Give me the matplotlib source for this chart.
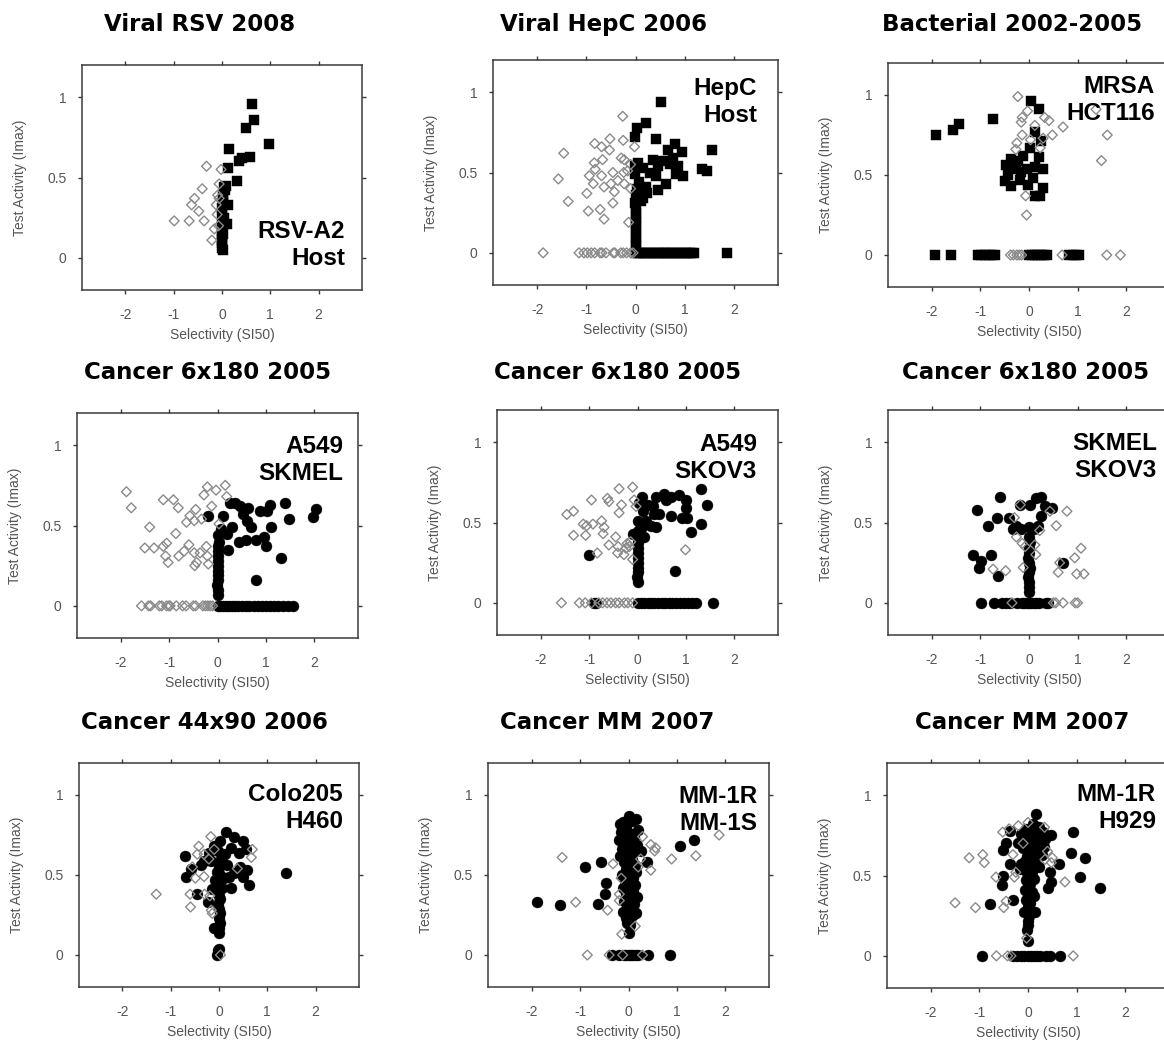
import matplotlib
matplotlib.use('Agg')
import matplotlib.pyplot as plt

# ---------------- data ----------------
titles = ["Viral RSV 2008", "Viral HepC 2006", "Bacterial 2002-2005",
          "Cancer 6x180 2005", "Cancer 6x180 2005", "Cancer 6x180 2005",
          "Cancer 44x90 2006", "Cancer MM 2007", "Cancer MM 2007"]
inner_labels = ["RSV-A2\nHost", "HepC\nHost", "MRSA\nHCT116",
                "A549\nSKMEL", "A549\nSKOV3", "SKMEL\nSKOV3",
                "Colo205\nH460", "MM-1R\nMM-1S", "MM-1R\nH929"]
x_ticks = [-2, -1, 0, 1, 2]
x_tick_labels = ["-2", "-1", "0", "1", "2"]
y_ticks = [0, 0.5, 1]
y_tick_labels = ["0", "0.5", "1"]
x_label = "Selectivity (SI50)"
y_label = "Test Activity (Imax)"

# Panel 1: RSV (filled squares / open diamonds)
rsv_filled = [(0.63,0.96),(0.67,0.86),(0.50,0.81),(0.98,0.71),(0.15,0.68),(0.57,0.63),(0.41,0.62),
              (0.36,0.60),(0.12,0.56),(0.32,0.48),(0.08,0.45),(0.06,0.42),(0.03,0.39),(0.12,0.33),
              (0.03,0.34),(0.01,0.28),(0.04,0.25),(0.01,0.22),(0.10,0.21),(0.0,0.17),(0.0,0.13),
              (0.0,0.09),(0.0,0.06),(0.01,0.31),(0.02,0.05),(0.0,0.11),(0.02,0.15),(0.0,0.19),
              (0.03,0.36),(0.05,0.44)]
rsv_open = [(-0.32,0.57),(-0.02,0.55),(-0.41,0.43),(-0.57,0.37),(-0.63,0.33),(-0.48,0.29),(-0.68,0.23),
            (-0.99,0.23),(-0.37,0.23),(-0.12,0.33),(-0.09,0.39),(-0.06,0.46),(-0.16,0.18),(-0.21,0.11),
            (-0.10,0.27),(-0.06,0.37),(-0.07,0.20)]

# Panel 2: HepC
hepc_filled = [(0.51,0.94),(0.22,0.81),(0.03,0.78),(-0.02,0.72),(0.42,0.71),(0.81,0.68),(1.55,0.64),
               (0.66,0.64),(0.94,0.63),(0.36,0.58),(0.05,0.56),(0.56,0.57),(0.77,0.59),(-0.02,0.54),
               (0.15,0.53),(0.46,0.54),(0.70,0.55),(0.87,0.54),(1.35,0.52),(1.45,0.51),(0.29,0.50),
               (-0.02,0.49),(0.97,0.48),(0.83,0.49),(0.41,0.48),(0.08,0.44),(0.63,0.43),(0.21,0.41),
               (0.03,0.40),(0.46,0.39),(0.24,0.37),(0.01,0.36),(0.15,0.34),(-0.02,0.31),(0.12,0.32),
               (0.0,0.28),(0.0,0.25),(0.0,0.22),(0.0,0.19),(0.0,0.16),(0.0,0.13),(0.0,0.10),(0.0,0.07),
               (0.0,0.04),
               (0.0,0.0),(0.05,0.0),(0.1,0.0),(0.15,0.0),(0.2,0.0),(0.25,0.0),(0.3,0.0),(0.35,0.0),
               (0.4,0.0),(0.45,0.0),(0.5,0.0),(0.55,0.0),(0.6,0.0),(0.65,0.0),(0.7,0.0),(0.75,0.0),
               (0.8,0.0),(0.85,0.0),(0.9,0.0),(0.95,0.0),(1.0,0.0),(1.05,0.0),(1.1,0.0),(1.15,0.0),
               (1.2,0.0),(1.86,0.0)]
hepc_open = [(-0.26,0.85),(-1.46,0.62),(-1.57,0.46),(-1.37,0.32),(-0.52,0.71),(-0.83,0.68),(-0.69,0.66),
             (-0.25,0.70),(-0.02,0.66),(-0.53,0.64),(-0.67,0.58),(-0.84,0.56),(-0.29,0.59),(-0.23,0.58),
             (-0.82,0.52),(-0.94,0.48),(-0.69,0.48),(-0.46,0.50),(-0.24,0.50),(-0.10,0.55),(-0.16,0.51),
             (-0.86,0.43),(-0.50,0.43),(-0.64,0.41),(-0.23,0.43),(-0.99,0.37),(-0.10,0.40),(-0.46,0.31),
             (-0.96,0.26),(-0.72,0.27),(-0.64,0.21),(-0.14,0.19),(-0.36,0.45),(-0.43,0.38),
             (-1.88,0.0),(-1.15,0.0),(-1.05,0.0),(-0.98,0.0),(-0.90,0.0),(-0.83,0.0),(-0.72,0.0),
             (-0.68,0.0),(-0.60,0.0),(-0.45,0.0),(-0.42,0.0),(-0.30,0.0),(-0.25,0.0),(-0.18,0.0),
             (-0.10,0.0),(-0.05,0.0)]

# Panel 3: MRSA
mrsa_filled = [(-1.91,0.75),(-1.56,0.78),(-1.43,0.82),(-0.74,0.85),(0.05,0.96),(0.20,0.91),(0.12,0.77),
               (0.25,0.71),(0.03,0.67),(-0.12,0.62),(0.21,0.61),(-0.36,0.60),(-0.23,0.59),(-0.47,0.56),
               (-0.26,0.54),(-0.05,0.54),(0.12,0.55),(0.29,0.54),(-0.16,0.52),(-0.43,0.50),(0.08,0.48),
               (-0.50,0.46),(-0.38,0.43),(-0.02,0.44),(0.29,0.42),(0.12,0.37),(0.22,0.37),(-0.19,0.47),
               (-1.93,0.0),(-1.60,0.0),(-1.05,0.0),(-0.98,0.0),(-0.90,0.0),(-0.83,0.0),(-0.76,0.0),
               (-0.70,0.0),(0.0,0.0),(0.06,0.0),(0.12,0.0),(0.18,0.0),(0.24,0.0),(0.30,0.0),(0.36,0.0),
               (0.83,0.0),(0.90,0.0),(0.97,0.0),(1.03,0.0)]
mrsa_open = [(-0.23,0.99),(-0.03,0.90),(-0.14,0.86),(-0.16,0.83),(0.32,0.86),(0.41,0.84),(0.12,0.81),
             (0.70,0.80),(1.38,0.91),(1.61,0.75),(0.48,0.75),(-0.14,0.75),(0.29,0.73),(-0.25,0.70),
             (0.03,0.72),(-0.27,0.66),(0.23,0.67),(1.49,0.59),(-0.07,0.37),(-0.05,0.25),
             (-0.38,0.0),(-0.32,0.0),(-0.25,0.0),(-0.20,0.0),(-0.15,0.0),(0.68,0.0),(1.60,0.0),(1.88,0.0)]

# Panel 4: A549 / SKMEL
a549_skmel_filled = [(-0.19,0.56),(0.12,0.56),(0.25,0.64),(0.36,0.64),(0.46,0.62),(0.63,0.61),(0.53,0.57),
                     (1.09,0.63),(1.39,0.64),(1.47,0.54),(1.97,0.55),(2.04,0.60),(1.03,0.59),(0.87,0.59),
                     (0.60,0.53),(0.70,0.49),(1.11,0.49),(0.30,0.49),(0.08,0.48),(0.19,0.45),(0.01,0.44),
                     (0.45,0.40),(0.58,0.41),(0.80,0.41),(0.97,0.43),(1.01,0.37),(0.22,0.35),(1.32,0.30),
                     (0.79,0.16),(0.0,0.07),(0.0,0.10),(-0.02,0.13),(0.0,0.16),(0.0,0.19),(0.0,0.22),
                     (0.0,0.25),(0.0,0.28),(0.0,0.31),(0.02,0.34),(0.0,0.37),(0.03,0.40),
                     (0.0,0.0),(0.06,0.0),(0.12,0.0),(0.18,0.0),(0.24,0.0),(0.30,0.0),(0.36,0.0),(0.42,0.0),
                     (0.50,0.0),(0.58,0.0),(0.66,0.0),(0.75,0.0),(0.83,0.0),(0.92,0.0),(1.00,0.0),(1.08,0.0),
                     (1.17,0.0),(1.25,0.0),(1.35,0.0),(1.45,0.0),(1.55,0.0)]
a549_skmel_open = [(-1.88,0.71),(-1.78,0.61),(-1.40,0.49),(-1.50,0.36),(-1.31,0.36),(-1.12,0.66),(-0.91,0.66),
                   (-0.81,0.61),(-1.12,0.37),(-1.05,0.39),(-1.07,0.31),(-1.02,0.27),(-0.86,0.45),(-0.80,0.31),
                   (-0.69,0.34),(-0.64,0.52),(-0.57,0.56),(-0.59,0.38),(-0.48,0.53),(-0.45,0.60),(-0.48,0.33),
                   (-0.47,0.25),(-0.43,0.27),(-0.33,0.54),(-0.28,0.69),(-0.21,0.74),(-0.12,0.62),(-0.23,0.37),
                   (-0.21,0.31),(-0.19,0.26),(-0.03,0.72),(0.16,0.75),(0.19,0.68),(0.03,0.51),(-0.36,0.33),
                   (-1.57,0.0),(-1.42,0.0),(-1.38,0.0),(-1.20,0.0),(-1.15,0.0),(-1.05,0.0),(-1.00,0.0),
                   (-0.98,0.0),(-0.85,0.0),(-0.72,0.0),(-0.65,0.0),(-0.50,0.0),(-0.45,0.0),(-0.30,0.0),
                   (-0.25,0.0),(-0.20,0.0),(-0.15,0.0),(-0.10,0.0)]

# Panel 5: A549 / SKOV3
a549_skov3_filled = [(1.31,0.71),(1.43,0.61),(1.31,0.49),(1.10,0.44),(1.00,0.64),(1.00,0.59),(0.86,0.67),
                     (1.03,0.53),(0.92,0.53),(0.55,0.68),(0.69,0.66),(0.59,0.64),(0.38,0.66),(0.10,0.66),
                     (0.69,0.54),(0.45,0.55),(0.31,0.60),(0.21,0.61),(0.12,0.57),(0.03,0.62),(0.34,0.55),
                     (0.17,0.51),(0.0,0.51),(0.28,0.48),(0.10,0.47),(0.38,0.47),(-0.10,0.43),(0.14,0.41),
                     (0.01,0.45),(-1.01,0.30),(0.78,0.20),
                     (0.0,0.13),(-0.02,0.16),(0.0,0.19),(0.0,0.22),(0.0,0.25),(0.0,0.28),(0.0,0.31),
                     (0.02,0.34),(0.0,0.37),(0.0,0.40),
                     (-0.90,0.0),(-0.85,0.0),(0.0,0.0),(0.07,0.0),(0.14,0.0),(0.21,0.0),(0.28,0.0),
                     (0.35,0.0),(0.42,0.0),(0.50,0.0),(0.57,0.0),(0.64,0.0),(0.72,0.0),(0.80,0.0),
                     (0.88,0.0),(0.96,0.0),(1.05,0.0),(1.13,0.0),(1.20,0.0),(1.55,0.0)]
a549_skov3_open = [(-1.46,0.55),(-1.32,0.57),(-1.32,0.42),(-1.07,0.42),(-1.12,0.49),(-1.05,0.48),(-0.92,0.49),
                   (-0.95,0.64),(-0.74,0.51),(-0.69,0.47),(-0.71,0.43),(-0.62,0.65),(-0.59,0.63),(-0.38,0.71),
                   (-0.10,0.72),(-0.33,0.61),(-0.38,0.56),(-0.59,0.36),(-0.45,0.41),(-0.40,0.35),(-0.83,0.31),
                   (-0.41,0.31),(-0.28,0.30),(-0.21,0.37),(-0.24,0.34),(-0.17,0.35),(-0.14,0.38),(-0.07,0.64),
                   (-0.03,0.60),(0.99,0.33),(-0.10,0.27),
                   (-1.57,0.0),(-1.20,0.0),(-1.08,0.0),(-0.95,0.0),(-0.80,0.0),(-0.72,0.0),(-0.63,0.0),
                   (-0.55,0.0),(-0.45,0.0),(-0.38,0.0),(-0.27,0.0),(-0.20,0.0),(-0.10,0.0)]

# Panel 6: SKMEL / SKOV3
skmel_skov3_filled = [(-0.60,0.66),(-1.07,0.58),(-0.66,0.53),(-0.85,0.48),(-0.41,0.53),(-1.15,0.30),(-0.79,0.30),
                      (-0.98,0.26),(-1.02,0.22),(-0.64,0.17),(-0.19,0.61),(0.03,0.61),(0.14,0.65),(0.25,0.66),
                      (0.32,0.60),(0.48,0.59),(0.25,0.54),(0.19,0.48),(-0.26,0.48),(-0.33,0.46),(-0.16,0.46),
                      (0.01,0.47),(0.10,0.46),(-0.01,0.41),(0.03,0.38),(0.70,0.25),
                      (0.0,0.07),(0.0,0.10),(0.0,0.13),(-0.02,0.16),(0.0,0.19),(0.02,0.22),(0.0,0.25),
                      (-0.02,0.28),(0.0,0.31),(0.0,0.34),
                      (-0.98,0.0),(-0.72,0.0),(-0.55,0.0),(-0.48,0.0),(-0.40,0.0),(-0.25,0.0),(-0.15,0.0),
                      (-0.10,0.0),(-0.05,0.0),(0.0,0.0),(0.05,0.0),(0.10,0.0),(0.15,0.0),(0.20,0.0),
                      (0.35,0.0),(0.40,0.0)]
skmel_skov3_open = [(-0.18,0.61),(-0.30,0.53),(-0.26,0.41),(-0.14,0.37),(-0.08,0.35),(0.12,0.36),(0.14,0.30),
                    (-0.12,0.22),(-0.74,0.21),(-0.48,0.20),(0.22,0.45),(0.78,0.57),(0.56,0.48),(1.07,0.34),
                    (0.94,0.28),(0.98,0.18),(1.13,0.18),(0.60,0.19),(0.63,0.25),(0.43,0.57),
                    (-0.35,0.0),(0.50,0.0),(0.55,0.0),(0.70,0.0),(0.95,0.0),(1.00,0.0)]

# Panel 7: Colo205 / H460
colo_h460_filled = [(1.39,0.51),(0.15,0.77),(0.31,0.74),(0.50,0.71),(0.55,0.66),(0.03,0.71),(-0.10,0.68),
                    (0.24,0.67),(0.42,0.64),(-0.71,0.62),(-0.21,0.64),(-0.31,0.59),(-0.16,0.59),(-0.38,0.56),
                    (-0.59,0.54),(0.59,0.53),(0.44,0.55),(0.17,0.56),(0.49,0.49),(-0.69,0.49),(0.21,0.49),
                    (0.31,0.51),(-0.09,0.47),(0.07,0.42),(0.24,0.42),(0.62,0.44),(-0.14,0.41),(-0.45,0.38),
                    (0.0,0.37),(-0.23,0.33),(-0.05,0.52),(0.05,0.60),(0.10,0.48),(-0.02,0.45),(0.12,0.63),
                    (0.0,0.14),(0.0,0.17),(0.02,0.20),(0.0,0.23),(0.02,0.26),(0.0,0.29),(-0.02,0.32),
                    (0.02,0.35),(0.0,0.40),(0.02,0.50),(0.0,0.55),(-0.03,0.65),(-0.10,0.17),
                    (-0.03,0.03),(0.01,0.04),(-0.05,0.0)]
colo_h460_open = [(-1.30,0.38),(-0.60,0.38),(-0.59,0.30),(-0.42,0.68),(-0.17,0.74),(-0.45,0.63),(-0.31,0.63),
                  (-0.55,0.55),(-0.49,0.48),(-0.31,0.49),(-0.21,0.60),(-0.30,0.38),(-0.19,0.37),(-0.14,0.26),
                  (-0.16,0.28),(0.69,0.66),(0.67,0.61),(0.38,0.54),(-0.10,0.66),(0.03,0.0)]

# Panel 8: MM-1R / MM-1S
mm1s_filled = [(-1.88,0.33),(-1.41,0.31),(-0.90,0.55),(-0.56,0.58),(-0.47,0.45),(-0.48,0.38),(-0.62,0.32),
               (0.39,0.58),(1.07,0.68),(1.35,0.72),(0.0,0.14),
               (-0.12,0.83),(0.01,0.87),(0.15,0.85),(-0.18,0.82),(-0.05,0.80),(0.08,0.84),(0.20,0.78),
               (-0.15,0.77),(0.0,0.76),(0.12,0.74),(-0.20,0.72),(-0.08,0.71),(0.05,0.70),(0.18,0.69),
               (-0.13,0.66),(0.02,0.65),(0.10,0.64),(-0.17,0.62),(-0.04,0.61),(0.07,0.60),(0.25,0.65),
               (-0.10,0.58),(0.0,0.57),(0.13,0.56),(-0.06,0.54),(0.04,0.53),(0.16,0.52),(-0.14,0.50),
               (-0.02,0.49),(0.09,0.48),(-0.08,0.46),(0.05,0.45),(0.14,0.44),(-0.11,0.42),(0.0,0.41),
               (0.10,0.40),(-0.05,0.38),(0.06,0.37),(0.17,0.36),(-0.09,0.34),(0.02,0.33),(0.12,0.32),
               (-0.04,0.30),(0.07,0.29),(-0.12,0.27),(0.0,0.26),(0.10,0.25),(-0.06,0.23),(0.04,0.22),
               (0.15,0.26),(-0.03,0.20),(0.03,0.19),
               (-0.35,0.0),(-0.20,0.0),(-0.10,0.0),(-0.05,0.0),(0.0,0.0),(0.05,0.0),(0.10,0.0),
               (0.15,0.0),(0.20,0.0),(0.40,0.0),(0.85,0.0)]
mm1s_open = [(-1.37,0.61),(-1.09,0.33),(-0.43,0.28),(0.29,0.74),(0.46,0.69),(0.56,0.67),(0.54,0.65),
             (0.89,0.60),(1.39,0.62),(1.87,0.75),(0.46,0.53),(-0.19,0.34),(-0.14,0.13),(0.14,0.18),
             (-0.32,0.57),(0.25,0.60),(-0.19,0.38),(0.20,0.55),(-0.15,0.48),
             (-0.85,0.0),(-0.40,0.0),(-0.12,0.0),(0.29,0.0)]

# Panel 9: MM-1R / H929
h929_filled = [(0.17,0.88),(0.92,0.77),(0.48,0.75),(0.88,0.64),(1.17,0.61),(1.48,0.42),(1.06,0.49),
               (0.63,0.57),(0.45,0.52),(0.48,0.46),(0.41,0.42),(-0.79,0.32),(-0.31,0.35),(-0.52,0.50),
               (-0.53,0.44),(-0.38,0.57),(-0.52,0.66),(-0.38,0.78),(-0.45,0.70),(-0.14,0.57),(-0.17,0.54),
               (0.0,0.09),
               (0.10,0.82),(0.22,0.80),(-0.05,0.79),(0.30,0.77),(0.05,0.77),(-0.15,0.76),(0.15,0.75),
               (0.35,0.73),(-0.08,0.73),(0.25,0.72),(0.02,0.71),(-0.20,0.70),(0.12,0.69),(0.32,0.68),
               (-0.10,0.67),(0.20,0.66),(0.05,0.65),(-0.02,0.62),(0.28,0.63),(0.10,0.61),(-0.06,0.59),
               (0.15,0.58),(0.0,0.56),(0.22,0.55),(-0.04,0.53),(0.08,0.52),(0.0,0.50),(0.12,0.48),
               (-0.05,0.47),(0.05,0.45),(0.0,0.43),(-0.06,0.41),(0.08,0.40),(0.0,0.38),(0.12,0.37),
               (-0.04,0.35),(0.05,0.33),(0.0,0.31),(0.15,0.27),(-0.08,0.27),(0.02,0.25),(0.0,0.22),
               (0.0,0.19),(-0.02,0.16),
               (-0.95,0.0),(-0.30,0.0),(-0.22,0.0),(-0.15,0.0),(-0.08,0.0),(0.0,0.0),(0.06,0.0),
               (0.12,0.0),(0.18,0.0),(0.25,0.0),(0.38,0.0),(0.45,0.0),(0.65,0.0)]
h929_open = [(-1.50,0.33),(-1.21,0.61),(-0.93,0.63),(-0.90,0.58),(-1.08,0.30),(-0.66,0.49),(-0.50,0.30),
             (-0.45,0.34),(-0.52,0.77),(-0.39,0.79),(-0.20,0.81),(0.0,0.83),(0.34,0.80),(0.76,0.46),
             (0.50,0.61),(0.48,0.58),(-0.03,0.11),(-0.31,0.63),(-0.28,0.49),(0.35,0.60),(-0.10,0.70),
             (0.40,0.65),(-0.25,0.52),
             (-0.65,0.0),(-0.42,0.0),(-0.35,0.0),(0.93,0.0)]

panels_filled = [rsv_filled, hepc_filled, mrsa_filled, a549_skmel_filled, a549_skov3_filled,
                 skmel_skov3_filled, colo_h460_filled, mm1s_filled, h929_filled]
panels_open = [rsv_open, hepc_open, mrsa_open, a549_skmel_open, a549_skov3_open,
               skmel_skov3_open, colo_h460_open, mm1s_open, h929_open]
filled_markers = ['s', 's', 's', 'o', 'o', 'o', 'o', 'o', 'o']

# ---------------- layout (pixels) ----------------
W, H = 1164, 1043
ax_l = [82, 493, 888, 77, 497, 888, 79, 488, 887]
ax_r = [362, 778, 1170, 358, 778, 1170, 359, 769, 1169]
ax_t = [65, 60, 63, 413, 410, 410, 763, 763, 763]
ax_b = [290, 285, 287, 638, 635, 635, 987, 987, 988]
title_cx = [200, 603, 1012, 208, 618, 1026, 204, 607, 1022]
title_base = [31, 31, 31, 379, 379, 379, 729, 729, 729]
lab_right = [345, 757, 1155, 343, 757, 1157, 343, 757, 1156]
lab_top = [220, 77, 75, 435, 433, 432, 783, 785, 783]

plt.rcParams['font.family'] = ['Liberation Sans', 'DejaVu Sans']
fig = plt.figure(figsize=(W / 100, H / 100), dpi=100)

spine_c = '#3a3a3a'
text_c = '#555555'

for i in range(9):
    l, r, t, b = ax_l[i], ax_r[i], ax_t[i], ax_b[i]
    ax = fig.add_axes([l / W, 1 - b / H, (r - l) / W, (b - t) / H])
    fx = [p[0] for p in panels_filled[i]]
    fy = [p[1] for p in panels_filled[i]]
    ox = [p[0] for p in panels_open[i]]
    oy = [p[1] for p in panels_open[i]]
    if filled_markers[i] == 's':
        ax.scatter(fx, fy, marker='s', s=55, c='black', edgecolors='black', linewidths=0.3, zorder=2)
    else:
        ax.scatter(fx, fy, marker='o', s=62, c='black', edgecolors='black', linewidths=0.3, zorder=2)
    ax.scatter(ox, oy, marker='D', s=25, facecolors='none', edgecolors='#8a8a8a', linewidths=1.0, zorder=3)

    ax.set_xlim(-2.9, 2.9)
    ax.set_ylim(-0.2, 1.2)
    ax.set_xticks(x_ticks)
    ax.set_xticklabels(x_tick_labels)
    ax.set_yticks(y_ticks)
    ax.set_yticklabels(y_tick_labels)
    ax.tick_params(direction='out', length=3, width=1, color=spine_c, labelcolor=text_c,
                   labelsize=10, top=True, right=True)
    ax.tick_params(axis='x', pad=10)
    ax.tick_params(axis='y', pad=8)
    for sp in ax.spines.values():
        sp.set_color(spine_c)
        sp.set_linewidth(1.1)
    ax.set_xlabel(x_label, fontsize=10, color=text_c, labelpad=4)
    ax.set_ylabel(y_label, fontsize=10, color=text_c, labelpad=15)

    fig.text(title_cx[i] / W, 1 - title_base[i] / H, titles[i], ha='center', va='baseline',
             fontsize=16.5, fontweight='bold', color='black', family=['DejaVu Sans'])
    fig.text(lab_right[i] / W, 1 - lab_top[i] / H, inner_labels[i], ha='right', va='top',
             multialignment='right', fontsize=17.5, fontweight='bold', color='black',
             linespacing=1.2)

fig.savefig('out.png', dpi=100)
